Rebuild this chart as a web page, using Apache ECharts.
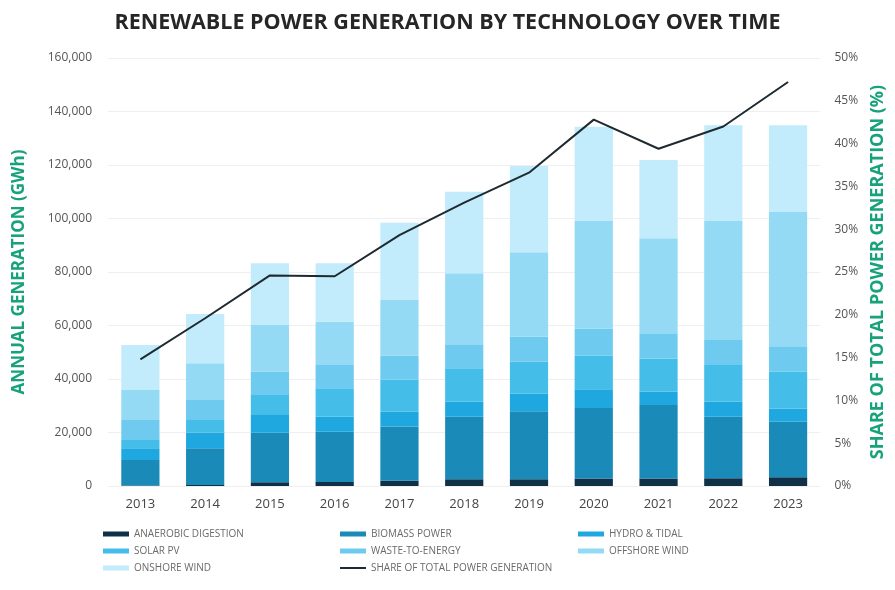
<!DOCTYPE html>
<html>
<head>
<meta charset="utf-8">
<script src="https://cdn.jsdelivr.net/npm/echarts@6/dist/echarts.min.js"></script>
<style>
html,body{margin:0;padding:0;background:#fff;}
#chart{width:895px;height:590px;}
</style>
</head>
<body>
<div id="chart"></div>
<script>
var years = ['2013','2014','2015','2016','2017','2018','2019','2020','2021','2022','2023'];
var anaerobicDigestion = [200, 400, 1400, 1500, 2000, 2500, 2500, 2800, 2800, 2900, 3300];
var biomassPower = [9500, 13700, 18500, 18800, 20200, 23400, 25400, 26400, 27500, 23000, 20700];
var hydroTidal = [4400, 5900, 6600, 5600, 5600, 5600, 6600, 7000, 5000, 5600, 5000];
var solarPV = [3100, 4700, 7500, 10600, 11900, 12500, 12000, 12600, 12400, 13700, 13700];
var wasteToEnergy = [7500, 7700, 8700, 8700, 9100, 9000, 9300, 10000, 9400, 9400, 9500];
var offshoreWind = [11200, 13500, 17500, 16200, 20700, 26500, 31600, 40300, 35500, 44500, 50400];
var onshoreWind = [16800, 18400, 23100, 21900, 28900, 30500, 32200, 35200, 29300, 35800, 32300];
var shareOfTotal = [14.8, 19.6, 24.6, 24.5, 29.3, 33.1, 36.6, 42.8, 39.4, 42.0, 47.2];
var leftTicks = [0, 20000, 40000, 60000, 80000, 100000, 120000, 140000, 160000];

var FONT = '"Open Sans", "Noto Sans", sans-serif';
var GREEN = '#17a27b';
var names = ['ANAEROBIC DIGESTION','BIOMASS POWER','HYDRO & TIDAL','SOLAR PV','WASTE-TO-ENERGY','OFFSHORE WIND','ONSHORE WIND'];
var colors = ['#0f3047','#1a8bb9','#1fa8df','#45bde9','#6ecbef','#94daf5','#c2ebfb'];
var dataSets = [anaerobicDigestion, biomassPower, hydroTidal, solarPV, wasteToEnergy, offshoreWind, onshoreWind];
var LINE_NAME = 'SHARE OF TOTAL POWER GENERATION';

var series = names.map(function(n, i){
  return {
    name: n, type: 'bar', stack: 'gen', data: dataSets[i],
    barWidth: '59%', itemStyle: {color: colors[i]}, emphasis: {disabled: true}
  };
});
series.push({
  name: LINE_NAME, type: 'line', yAxisIndex: 1, data: shareOfTotal,
  symbol: 'none', lineStyle: {color: '#1e2a30', width: 2}, itemStyle: {color: '#1e2a30'}, z: 10
});

function legendCol(left, top, items, h){
  return {
    orient: 'vertical', left: left, top: top, itemWidth: 26, itemHeight: h, itemGap: 7,
    selectedMode: false, icon: 'rect', data: items,
    textStyle: {fontFamily: FONT, fontSize: 10, color: '#6a6a6a'}
  };
}

var chart = echarts.init(document.getElementById('chart'));
chart.setOption({
  animation: false,
  textStyle: {fontFamily: FONT},
  title: {
    text: 'RENEWABLE POWER GENERATION BY TECHNOLOGY OVER TIME',
    left: 'center', top: 7,
    textStyle: {fontFamily: FONT, fontSize: 21.5, fontWeight: 'bold', color: '#262626'}
  },
  legend: [
    legendCol(98, 524, ['ANAEROBIC DIGESTION','SOLAR PV','ONSHORE WIND'], 5),
    legendCol(335, 524, ['BIOMASS POWER','WASTE-TO-ENERGY'], 5),
    legendCol(335, 558, [LINE_NAME], 2),
    legendCol(573, 524, ['HYDRO & TIDAL','OFFSHORE WIND'], 5)
  ],
  grid: {left: 108, right: 72, top: 58, bottom: 104},
  xAxis: {
    type: 'category', data: years,
    axisLine: {show: false}, axisTick: {show: false},
    axisLabel: {fontFamily: FONT, fontSize: 13, color: '#444', margin: 12}
  },
  yAxis: [
    {
      type: 'value', min: 0, max: 160000, interval: 20000,
      name: 'ANNUAL GENERATION (GWh)', nameLocation: 'middle', nameGap: 80, nameRotate: 90,
      nameTextStyle: {fontFamily: FONT, fontSize: 17, fontWeight: 'bold', color: GREEN},
      axisLine: {show: false}, axisTick: {show: false},
      axisLabel: {fontFamily: FONT, fontSize: 12, color: '#555', margin: 16,
        formatter: function(v){ return leftTicks.indexOf(v) >= 0 ? v.toLocaleString('en-US') : ''; }},
      splitLine: {lineStyle: {color: '#efefef', width: 1}}
    },
    {
      type: 'value', min: 0, max: 50, interval: 5,
      name: 'SHARE OF TOTAL POWER GENERATION (%)', nameLocation: 'middle', nameGap: 48, nameRotate: 90,
      nameTextStyle: {fontFamily: FONT, fontSize: 18, fontWeight: 'bold', color: GREEN},
      axisLine: {show: false}, axisTick: {show: false},
      axisLabel: {fontFamily: FONT, fontSize: 12, color: '#555', margin: 14, formatter: '{value}%'},
      splitLine: {show: false}
    }
  ],
  series: series
});
</script>
</body>
</html>
